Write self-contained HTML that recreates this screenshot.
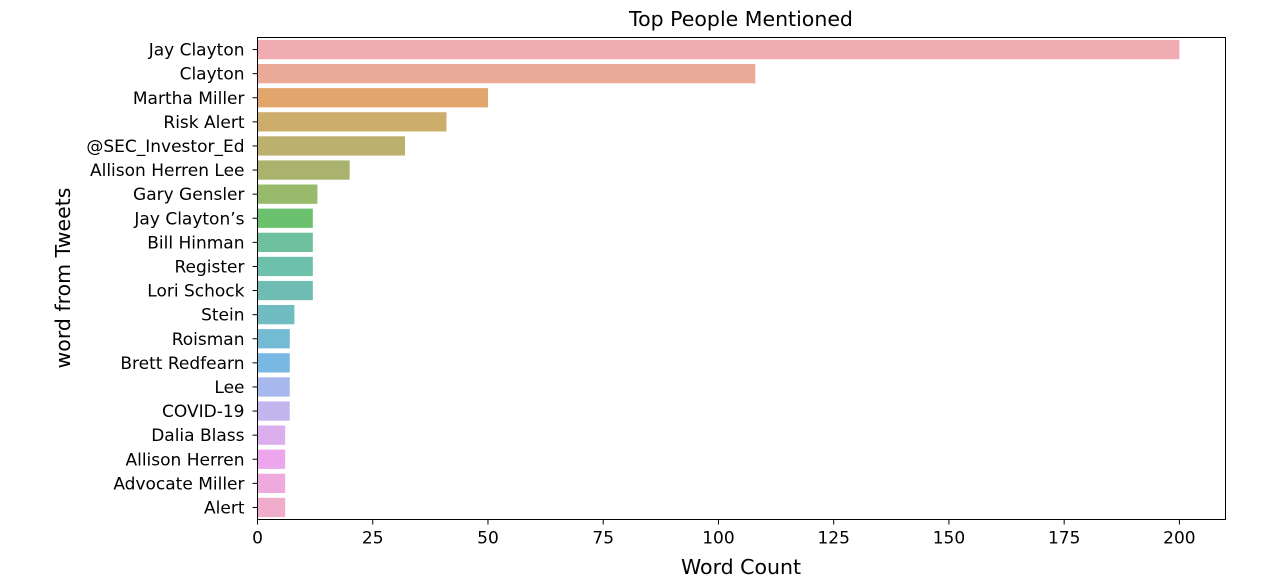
<!DOCTYPE html>
<html><head><meta charset="utf-8"><style>
body{margin:0;background:#fff;}
svg{display:block;font-family:"DejaVu Sans","Liberation Sans",sans-serif;}
</style></head><body>
<svg id="chart" width="1288" height="587" xmlns="http://www.w3.org/2000/svg">
<text x="741" y="26" font-size="20.5" text-anchor="middle" fill="#000">Top People Mentioned</text>
<text x="741" y="574" font-size="20.5" text-anchor="middle" fill="#000">Word Count</text>
<text transform="translate(70,278) rotate(-90)" font-size="20.5" text-anchor="middle" fill="#000">word from Tweets</text>
<g id="bars"></g><g id="yticks"></g><g id="xticks"></g>
<rect x="257.5" y="37.5" width="968" height="482" fill="none" stroke="#000" stroke-width="1"/>
</svg>
<script>
const categories=["Jay Clayton","Clayton","Martha Miller","Risk Alert","@SEC_Investor_Ed","Allison Herren Lee","Gary Gensler","Jay Clayton’s","Bill Hinman","Register","Lori Schock","Stein","Roisman","Brett Redfearn","Lee","COVID-19","Dalia Blass","Allison Herren","Advocate Miller","Alert"];
const counts=[200,108,50,41,32,20,13,12,12,12,12,8,7,7,7,7,6,6,6,6];
const colors=["#f0abb3","#eaaa98","#e2a66c","#ccad6b","#bcb06e","#aab36e","#97bb6a","#6cc16f","#6ec19c","#6dc0a9","#6fbcb3","#70bcc0","#72bbd2","#78b8e3","#a7b9ec","#c3b6ee","#dcaeee","#eca6ec","#eeaadc","#efaccb"];
const xTicks=[0,25,50,75,100,125,150,175,200];
const L=257.5,R=1225.5,T=37.5,B=519.5,XMAX=210;
const ns="http://www.w3.org/2000/svg";
const x=v=>L+(R-L)*v/XMAX;
const band=(B-T)/categories.length;
const y=i=>T+band*i;
const gb=document.getElementById('bars'),gy=document.getElementById('yticks'),gx=document.getElementById('xticks');
function mk(t,a){const e=document.createElementNS(ns,t);for(const k in a)e.setAttribute(k,a[k]);return e;}
categories.forEach((c,i)=>{
  const r=mk('rect',{x:x(0),y:y(i)+band*0.1,width:x(counts[i])-x(0),height:band*0.8,fill:colors[i]});
  
  
  gb.appendChild(r);
  const cy=y(i)+band/2;
  const tk=mk('line',{x1:L-5,x2:L,y1:cy,y2:cy,stroke:'#000'});
  
  
  gy.appendChild(tk);
  const t=mk('text',{x:L-13,y:cy+6,'font-size':17,'text-anchor':'end',fill:'#000'});
  t.textContent=c;
  
  
  gy.appendChild(t);
});
xTicks.forEach(v=>{
  const tk=mk('line',{x1:x(v),x2:x(v),y1:B,y2:B+5,stroke:'#000'});
  
  
  gx.appendChild(tk);
  const t=mk('text',{x:x(v),y:B+24,'font-size':17,'text-anchor':'middle',fill:'#000'});
  t.textContent=v;
  
  
  gx.appendChild(t);
});
</script>
</body></html>
